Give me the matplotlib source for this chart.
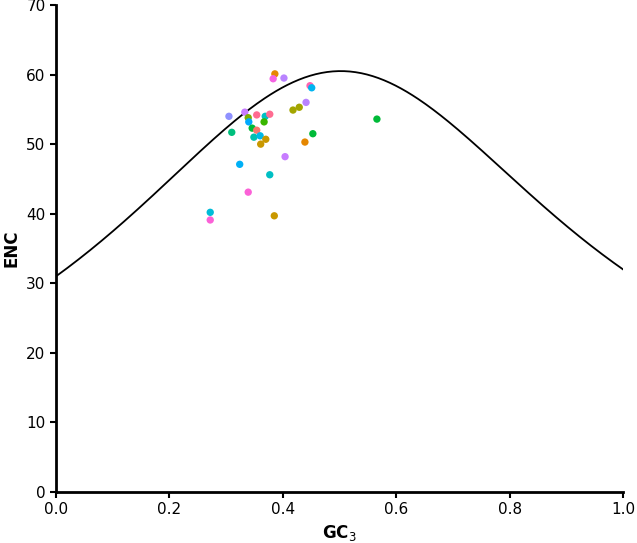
import numpy as np
import matplotlib.pyplot as plt

# GC3 / ENC points
gc3 = [0.386, 0.383, 0.402, 0.448, 0.451, 0.441, 0.429, 0.418, 0.305, 0.333,
       0.354, 0.369, 0.377, 0.339, 0.340, 0.367, 0.346, 0.310, 0.354, 0.349,
       0.360, 0.370, 0.361, 0.453, 0.439, 0.566, 0.404, 0.324, 0.377, 0.339,
       0.272, 0.272, 0.385]
enc = [60.1, 59.4, 59.5, 58.4, 58.1, 56.0, 55.3, 54.9, 54.0, 54.6,
       54.2, 54.0, 54.3, 53.8, 53.2, 53.2, 52.3, 51.7, 52.0, 51.0,
       51.2, 50.7, 50.0, 51.5, 50.3, 53.6, 48.2, 47.1, 45.6, 43.1,
       40.2, 39.1, 39.7]
colors = ['#E58700', '#F564E3', '#B983FF', '#FF64B0', '#00B4F0', '#B983FF', '#A3A500', '#A3A500',
          '#8F91FF', '#C77CFF', '#FF6C91', '#00BFC4', '#FF6C91', '#7CAE00', '#00A9FF', '#39B600',
          '#00BA38', '#00BF7D', '#F8766D', '#00C0AF', '#00B8E7', '#C99800', '#C99800', '#00BA38',
          '#E58700', '#00BA38', '#C77CFF', '#00B0F6', '#00BFC4', '#FB61D7', '#00BCD8', '#FB61D7',
          '#C99800']

# expected ENC curve (Wright)
s = np.linspace(0, 1, 300)
expected = 2 + s + 29 / (s ** 2 + (1 - s) ** 2)

fig = plt.figure(figsize=(6.37, 5.43), dpi=100)
ax = fig.add_axes([56 / 637, 51 / 543, 567 / 637, 487 / 543])
ax.plot(s, expected, color='black', lw=1.3)
ax.scatter(gc3, enc, c=colors, s=28, edgecolors='none', zorder=3)

ax.set_xlim(0, 1)
ax.set_ylim(0, 70)
ax.set_xticks(np.arange(0, 1.01, 0.2))
ax.set_xticklabels(['0.0', '0.2', '0.4', '0.6', '0.8', '1.0'])
ax.set_yticks(range(0, 71, 10))
for side in ['top', 'right']:
    ax.spines[side].set_visible(False)
for side in ['left', 'bottom']:
    ax.spines[side].set_linewidth(2)
ax.tick_params(labelsize=11, width=1.5, length=4)
ax.set_xlabel('GC$_3$', fontsize=12, fontweight='bold')
ax.set_ylabel('ENC', fontsize=12, fontweight='bold')

fig.savefig('out.png', dpi=100)
